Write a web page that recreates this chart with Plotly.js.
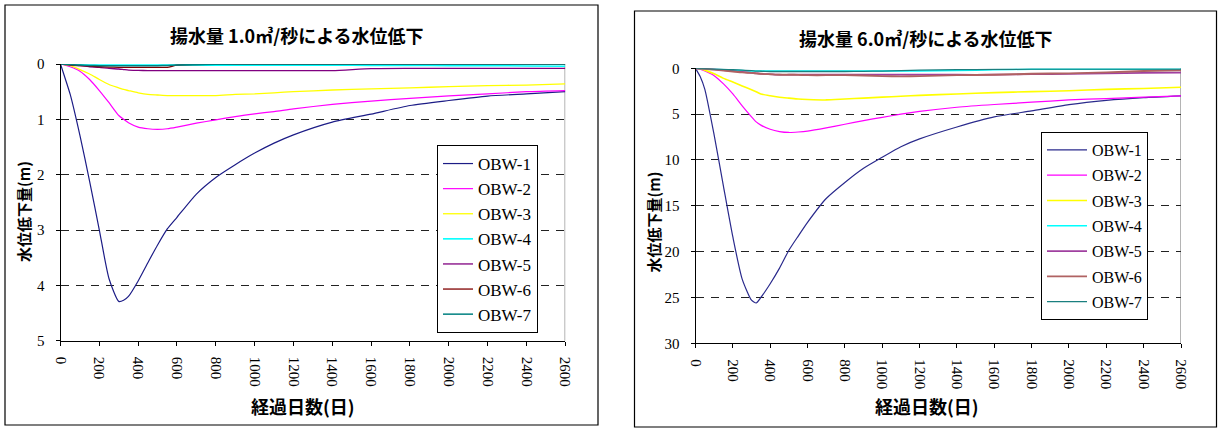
<!DOCTYPE html>
<html>
<head>
<meta charset="utf-8">
<script src="https://cdn.plot.ly/plotly-3.0.1.min.js"></script>
<style>html,body{margin:0;padding:0;background:#fff;}#chart{width:1218px;height:428px;}</style>
</head>
<body>
<div id="chart"></div>
<script>
// Elapsed days (shared x values)
const days = [0,25,50,100,150,200,250,300,325,350,400,450,500,550,600,700,800,900,1000,1100,1200,1400,1600,1800,2000,2200,2400,2600];
const seriesNames = ["OBW-1","OBW-2","OBW-3","OBW-4","OBW-5","OBW-6","OBW-7"];

// Pumping 1.0 m3/s : drawdown (m)
const q1_obw1 = [0,0.27,0.55,1.29,2.12,3.0,3.88,4.29,4.27,4.2,3.92,3.59,3.27,2.98,2.77,2.35,2.05,1.82,1.61,1.43,1.28,1.05,0.905,0.75,0.66,0.58,0.54,0.5];
const q1_obw2 = [0,0.02,0.05,0.13,0.28,0.48,0.70,0.93,1.0,1.06,1.14,1.17,1.18,1.17,1.14,1.07,1.01,0.95,0.9,0.86,0.81,0.73,0.67,0.62,0.575,0.54,0.5,0.48];
const q1_obw3 = [0,0.01,0.03,0.1,0.18,0.28,0.37,0.43,0.46,0.48,0.52,0.55,0.56,0.57,0.57,0.57,0.57,0.55,0.54,0.52,0.5,0.47,0.45,0.43,0.41,0.39,0.38,0.36];
const q1_obw4 = [0,0.005,0.01,0.015,0.02,0.02,0.02,0.02,0.02,0.02,0.02,0.02,0.02,0.02,0.02,0.02,0.02,0.02,0.02,0.02,0.02,0.02,0.025,0.025,0.03,0.03,0.035,0.04];
const q1_obw5 = [0,0.005,0.01,0.03,0.05,0.06,0.08,0.09,0.1,0.11,0.115,0.12,0.12,0.12,0.12,0.12,0.12,0.12,0.12,0.12,0.12,0.12,0.085,0.08,0.08,0.08,0.08,0.08];
const q1_obw6 = [0,0.01,0.02,0.03,0.04,0.05,0.055,0.06,0.06,0.06,0.06,0.06,0.06,0.06,0.02,0.01,0.005,0,0,0,0,0,0,0,0,0,0,0];
const q1_obw7 = [0,0.005,0.01,0.02,0.025,0.03,0.03,0.03,0.03,0.03,0.03,0.03,0.03,0.025,0.02,0.01,0.005,0,0,0,0,0,0,0,0,0,0,0];

// Pumping 6.0 m3/s : drawdown (m)
const q6_obw1 = [0,0.9,2.3,7.3,12.9,18.4,23.0,25.3,25.6,25.0,23.5,21.8,19.85,18.3,16.8,14.2,12.45,10.9,9.7,8.55,7.7,6.4,5.3,4.65,3.97,3.5,3.2,3.0];
const q6_obw2 = [0,0.1,0.3,0.8,1.7,2.8,4.1,5.3,5.85,6.2,6.65,6.9,7.0,6.95,6.85,6.5,6.1,5.7,5.35,5.0,4.7,4.25,3.95,3.7,3.45,3.3,3.15,3.0];
const q6_obw3 = [0,0.05,0.2,0.6,1.1,1.5,1.92,2.33,2.55,2.8,3.0,3.15,3.25,3.35,3.4,3.45,3.35,3.25,3.15,3.05,2.95,2.8,2.65,2.55,2.45,2.3,2.2,2.07];
const q6_obw4 = [0,0.02,0.05,0.1,0.15,0.2,0.25,0.3,0.3,0.3,0.3,0.3,0.3,0.3,0.3,0.3,0.3,0.3,0.3,0.3,0.3,0.25,0.15,0.1,0.1,0.1,0.1,0.1];
const q6_obw5 = [0,0.02,0.05,0.12,0.2,0.3,0.4,0.5,0.55,0.6,0.65,0.7,0.7,0.7,0.7,0.7,0.7,0.7,0.7,0.7,0.7,0.7,0.7,0.65,0.6,0.55,0.5,0.48];
const q6_obw6 = [0,0.02,0.06,0.15,0.25,0.35,0.45,0.5,0.55,0.6,0.65,0.7,0.7,0.72,0.75,0.75,0.75,0.78,0.85,0.88,0.85,0.75,0.7,0.6,0.55,0.45,0.3,0.22];
const q6_obw7 = [0,0.02,0.04,0.08,0.12,0.16,0.2,0.25,0.3,0.32,0.35,0.35,0.35,0.35,0.35,0.35,0.35,0.33,0.3,0.25,0.2,0.15,0.12,0.1,0.1,0.1,0.1,0.1];

const xTickVals = [0,200,400,600,800,1000,1200,1400,1600,1800,2000,2200,2400,2600];
const yTickVals1 = [0,1,2,3,4,5];
const yTickVals6 = [0,5,10,15,20,25,30];

const colors1 = ["#1c1c86","#ff00ff","#ffff00","#00ffff","#800080","#800000","#008080"];
const colors6 = ["#2a2a8c","#ff00ff","#ffff00","#00ffff","#a040a0","#b06262","#1a7f7f"];
const widths1 = [1.2,1.2,1.3,1.6,1.3,1.3,1.5];
const widths6 = [1.2,1.2,1.6,1.5,1.7,1.9,1.3];

const left = [q1_obw1,q1_obw2,q1_obw3,q1_obw4,q1_obw5,q1_obw6,q1_obw7];
const right = [q6_obw1,q6_obw2,q6_obw3,q6_obw4,q6_obw5,q6_obw6,q6_obw7];

const traces = [];
left.forEach((ys,i)=>traces.push({x:days,y:ys,name:seriesNames[i],type:'scatter',mode:'lines',legendgroup:'a'+i,
  line:{color:colors1[i],width:widths1[i],shape:'spline',smoothing:0.6},xaxis:'x',yaxis:'y',legend:'legend'}));
right.forEach((ys,i)=>traces.push({x:days,y:ys,name:seriesNames[i],type:'scatter',mode:'lines',legendgroup:'b'+i,
  line:{color:colors6[i],width:widths6[i],shape:'spline',smoothing:0.6},xaxis:'x2',yaxis:'y2',legend:'legend2'}));

const W=1218,H=428;
const px = v=>v/W, py = v=>(H-v)/H;
const SERIF = 'Liberation Serif';
const tickFont = {family:SERIF,size:15,color:'#000'};
const cjk = 'Noto Sans CJK JP';

function xax(dom,anchor){return {domain:dom,range:[0,2600],tickvals:xTickVals,ticktext:xTickVals.map(String),
  tickangle:90,ticks:'outside',ticklen:4,tickcolor:'#000',showline:true,linecolor:'#000',linewidth:1,
  showgrid:false,zeroline:false,tickfont:tickFont,ticklabelstandoff:8,anchor:anchor,fixedrange:true};}
function yax(dom,range,tv,anchor){return {domain:dom,range:range,tickvals:tv,ticktext:tv.map(String),
  ticks:'outside',ticklen:4,tickcolor:'#000',showline:true,linecolor:'#000',linewidth:1,
  showgrid:true,gridcolor:'#222',gridwidth:1,griddash:'8px,7px',zeroline:false,tickfont:tickFont,
  ticklabelstandoff:8,anchor:anchor,fixedrange:true};}

const layout = {
  width:W,height:H,margin:{l:0,r:0,t:0,b:0},paper_bgcolor:'#fff',plot_bgcolor:'#fff',
  showlegend:true,
  xaxis:xax([px(60.5),px(565.3)],'y'),
  yaxis:yax([py(340.7),py(64)],[5,0],yTickVals1,'x'),
  xaxis2:xax([px(695.5),px(1181)],'y2'),
  yaxis2:yax([py(343.3),py(68.3)],[30,0],yTickVals6,'x2'),
  legend:{x:px(437),y:py(145),xanchor:'left',yanchor:'top',bgcolor:'#fff',bordercolor:'#000',borderwidth:1,
    font:{family:SERIF,size:17,color:'#000'},itemwidth:30,tracegroupgap:0},
  legend2:{x:px(1041),y:py(132),xanchor:'left',yanchor:'top',bgcolor:'#fff',bordercolor:'#000',borderwidth:1,
    font:{family:SERIF,size:16,color:'#000'},itemwidth:40,tracegroupgap:1.5},
  shapes:[
    {type:'rect',xref:'paper',yref:'paper',x0:px(5),x1:px(598),y0:py(425),y1:py(5),line:{color:'#000',width:1.2}},
    {type:'rect',xref:'paper',yref:'paper',x0:px(634.5),x1:px(1216.5),y0:py(427),y1:py(11),line:{color:'#000',width:1.2}},
    {type:'line',xref:'x',yref:'y domain',x0:2600,x1:2600,y0:0,y1:1,line:{color:'#b4b4b4',width:2},layer:'below'},
    {type:'line',xref:'x2',yref:'y2 domain',x0:2600,x1:2600,y0:0,y1:1,line:{color:'#b4b4b4',width:2},layer:'below'}
  ],
  annotations:[
    {text:'<b>揚水量 1.0㎥/秒による水位低下</b>',xref:'paper',yref:'paper',x:px(296.6),y:py(35),showarrow:false,
      xanchor:'center',yanchor:'middle',font:{family:cjk,size:18,color:'#000'}},
    {text:'<b>揚水量 6.0㎥/秒による水位低下</b>',xref:'paper',yref:'paper',x:px(926),y:py(38),showarrow:false,
      xanchor:'center',yanchor:'middle',font:{family:cjk,size:18,color:'#000'}},
    {text:'<b>水位低下量(m)</b>',xref:'paper',yref:'paper',x:px(23),y:py(212),showarrow:false,textangle:-90,
      xanchor:'center',yanchor:'middle',font:{family:cjk,size:15,color:'#000'}},
    {text:'<b>水位低下量(m)</b>',xref:'paper',yref:'paper',x:px(652.5),y:py(222),showarrow:false,textangle:-90,
      xanchor:'center',yanchor:'middle',font:{family:cjk,size:15,color:'#000'}},
    {text:'<b>経過日数(日)</b>',xref:'paper',yref:'paper',x:px(303),y:py(406),showarrow:false,
      xanchor:'center',yanchor:'middle',font:{family:cjk,size:18,color:'#000'}},
    {text:'<b>経過日数(日)</b>',xref:'paper',yref:'paper',x:px(927),y:py(406),showarrow:false,
      xanchor:'center',yanchor:'middle',font:{family:cjk,size:18,color:'#000'}}
  ]
};

Plotly.newPlot('chart',traces,layout,{displayModeBar:false,staticPlot:true});
</script>
</body>
</html>
